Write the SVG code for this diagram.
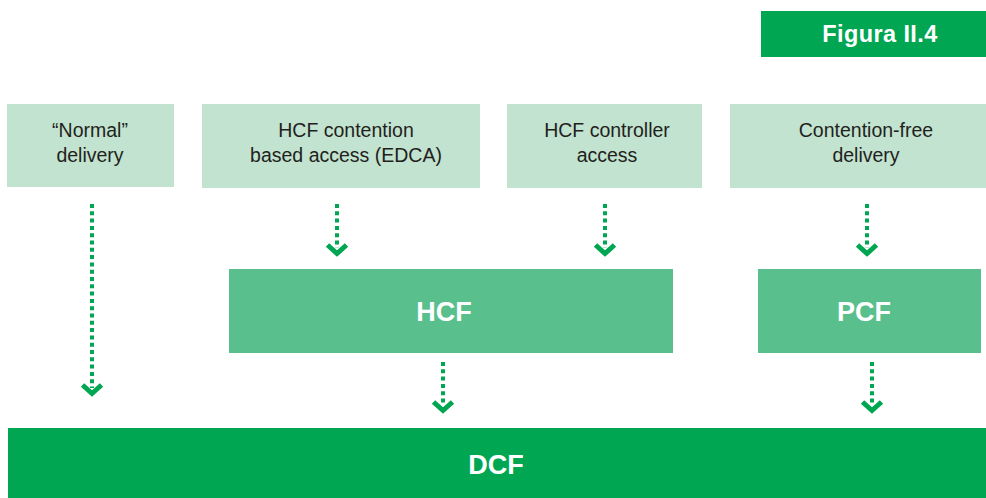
<svg xmlns="http://www.w3.org/2000/svg" width="986" height="498" viewBox="0 0 986 498">
  <style>
    .light { fill: #c1e3cf; }
    .mid { fill: #59bf8c; }
    .dark { fill: #00a651; }
    .lbl { font-family: "Liberation Sans", Arial, sans-serif; font-size: 19.5px; fill: #231f20; text-anchor: middle; }
    .big { font-family: "Liberation Sans", Arial, sans-serif; font-size: 27px; font-weight: bold; fill: #ffffff; text-anchor: middle; }
    .fig { font-family: "Liberation Sans", Arial, sans-serif; font-size: 23.5px; font-weight: bold; fill: #ffffff; text-anchor: middle; letter-spacing: 0.4px; }
    .dots { stroke: #00a651; stroke-width: 4; stroke-dasharray: 4 3.3; fill: none; }
    .head { stroke: #00a651; stroke-width: 5; fill: none; stroke-linecap: butt; }
  </style>
  <defs>
    <!-- chevron arrowhead, tip at the origin -->
    <g id="chev"><polyline class="head" points="-9.5,-8 0,0.5 9.5,-8"/></g>
  </defs>

  <g id="figure-tag">
    <rect class="dark" x="761" y="11" width="225" height="46"/>
    <text class="fig" x="880" y="42">Figura II.4</text>
  </g>

  <g id="normal-delivery">
    <rect class="light" x="7" y="104" width="167" height="83"/>
    <text class="lbl" x="90" y="137">“Normal”</text>
    <text class="lbl" x="90" y="162">delivery</text>
  </g>
  <g id="hcf-edca">
    <rect class="light" x="202" y="104" width="278" height="84"/>
    <text class="lbl" x="346" y="137">HCF contention</text>
    <text class="lbl" x="346" y="162">based access (EDCA)</text>
  </g>
  <g id="hcf-controller">
    <rect class="light" x="507" y="104" width="195" height="84"/>
    <text class="lbl" x="607" y="137">HCF controller</text>
    <text class="lbl" x="607" y="162">access</text>
  </g>
  <g id="contention-free">
    <rect class="light" x="730" y="104" width="256" height="84"/>
    <text class="lbl" x="866" y="137">Contention-free</text>
    <text class="lbl" x="866" y="162">delivery</text>
  </g>
  <g id="hcf">
    <rect class="mid" x="229" y="269" width="444" height="84"/>
    <text class="big" x="444" y="321">HCF</text>
  </g>
  <g id="pcf">
    <rect class="mid" x="758" y="269" width="223" height="84"/>
    <text class="big" x="864" y="321">PCF</text>
  </g>
  <g id="dcf">
    <rect class="dark" x="8" y="428" width="978" height="70"/>
    <text class="big" x="496" y="474">DCF</text>
  </g>

  <g id="connectors">
    <line class="dots" x1="92" y1="204" x2="92" y2="388"/>
    <use href="#chev" x="92" y="393"/>
    <line class="dots" x1="337" y1="204" x2="337" y2="248"/>
    <use href="#chev" x="337" y="253"/>
    <line class="dots" x1="605" y1="204" x2="605" y2="248"/>
    <use href="#chev" x="605" y="253"/>
    <line class="dots" x1="867" y1="204" x2="867" y2="248"/>
    <use href="#chev" x="867" y="253"/>
    <line class="dots" x1="443" y1="362" x2="443" y2="405"/>
    <use href="#chev" x="443" y="410"/>
    <line class="dots" x1="872" y1="362" x2="872" y2="405"/>
    <use href="#chev" x="872" y="410"/>
  </g>
</svg>
